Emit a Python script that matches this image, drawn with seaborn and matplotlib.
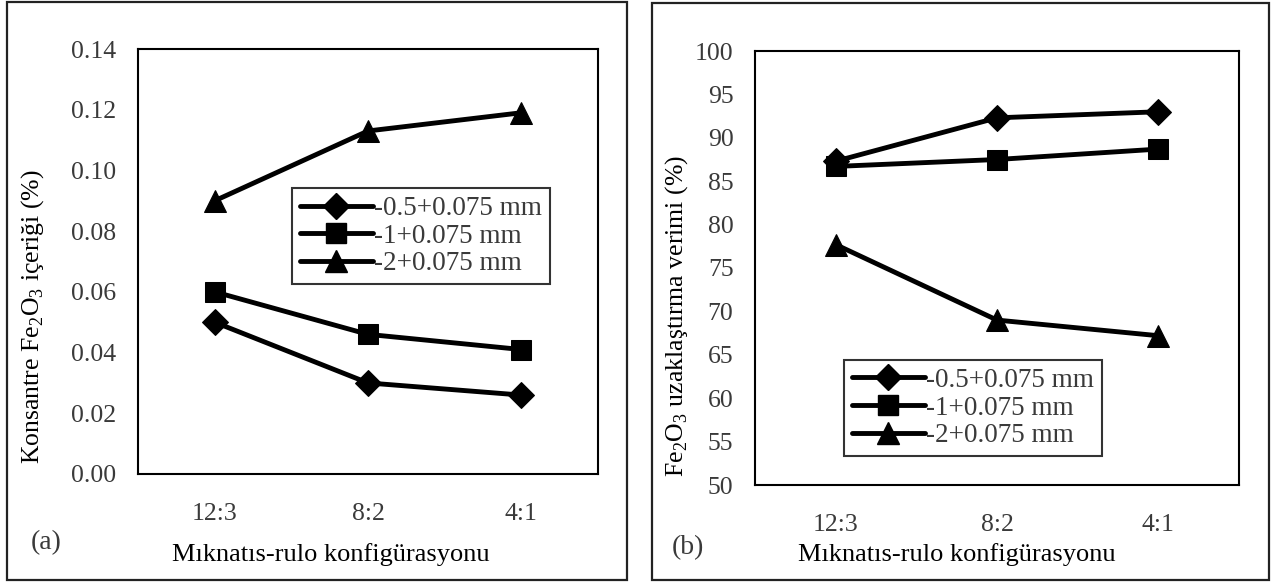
import pandas as pd
import matplotlib
matplotlib.use("Agg")
import matplotlib.pyplot as plt
from matplotlib.patches import Rectangle
from matplotlib.lines import Line2D
import seaborn as sns

# ------ Dados ------ #
configs = ["12:3", "8:2", "4:1"]
series = ["-0.5+0.075 mm", "-1+0.075 mm", "-2+0.075 mm"]

# (a) Konsantre Fe2O3 içeriği (%)
fe_a_05 = [0.050, 0.030, 0.026]
fe_a_1 = [0.060, 0.046, 0.041]
fe_a_2 = [0.090, 0.113, 0.119]

# (b) Fe2O3 uzaklaştırma verimi (%)
ver_b_05 = [87.3, 92.3, 93.0]
ver_b_1 = [86.7, 87.5, 88.7]
ver_b_2 = [77.7, 69.0, 67.2]

yticks_a = [0.00, 0.02, 0.04, 0.06, 0.08, 0.10, 0.12, 0.14]
yticks_b = [50, 55, 60, 65, 70, 75, 80, 85, 90, 95, 100]

markers = {series[0]: "D", series[1]: "s", series[2]: "^"}
msizes = {series[0]: 13, series[1]: 15, series[2]: 16}

W, H = 1279, 585
GRAY = "#3a3a3a"


def long_df(vals):
    rows = []
    for s, v in zip(series, vals):
        for c, y in zip(configs, v):
            rows.append({"konf": c, "deger": y, "seri": s})
    return pd.DataFrame(rows)


def px_box(x0, y0, x1, y1):
    # caixa em pixels (origem no topo) -> fracao da figura
    return [x0 / W, 1 - y1 / H, (x1 - x0) / W, (y1 - y0) / H]


sns.set_style("white")
plt.rcParams["font.family"] = ["Liberation Serif", "DejaVu Serif"]
plt.rcParams["mathtext.fontset"] = "custom"
plt.rcParams["mathtext.rm"] = "Liberation Serif"

fig = plt.figure(figsize=(W / 100, H / 100), dpi=100)

# molduras externas
for x0, y0, x1, y1 in [(7, 2, 627, 580), (652, 3, 1269, 580)]:
    b = px_box(x0, y0, x1, y1)
    fig.patches.append(Rectangle((b[0], b[1]), b[2], b[3], transform=fig.transFigure,
                                 fill=False, edgecolor="#222222", linewidth=1.6))

ax_a = fig.add_axes(px_box(138, 49, 598, 474))
ax_b = fig.add_axes(px_box(755, 51, 1239, 485))


def desenha(ax, df, yticks, ylabel, fmt, leg_pos, ylab_pos, xlab_pos, ypad):
    for s in series:
        d = df[df["seri"] == s]
        sns.lineplot(data=d, x="konf", y="deger", ax=ax, color="black", linewidth=3.5,
                     marker=markers[s], markersize=msizes[s], markeredgecolor="black",
                     legend=False, sort=False)
    ax.set_xlim(-0.5, len(configs) - 0.5)
    ax.set_ylim(yticks[0], yticks[-1])
    ax.set_yticks(yticks)
    ax.set_yticklabels([fmt(t) for t in yticks], fontsize=18.5, color=GRAY)
    ax.set_xticks(range(len(configs)))
    ax.set_xticklabels(configs, fontsize=18.5, color=GRAY)
    ax.set_xticks([i - 0.5 for i in range(len(configs) + 1)], minor=True)
    ax.tick_params(axis="x", which="major", length=0, pad=21)
    ax.tick_params(axis="x", which="minor", length=7, width=1.4, direction="out", color="black")
    ax.tick_params(axis="y", length=7, width=1.4, direction="out", color="black", pad=ypad)
    for sp in ax.spines.values():
        sp.set_color("black")
        sp.set_linewidth(1.5)
    ax.set_xlabel("Mıknatıs-rulo konfigürasyonu", fontsize=19, color="black")
    ax.xaxis.set_label_coords(*xlab_pos)
    ax.xaxis.label.set_va("center")
    ax.set_ylabel(ylabel, fontsize=18.5, color="black")
    ax.yaxis.set_label_coords(*ylab_pos)
    ax.yaxis.label.set_va("center")
    handles = [Line2D([0], [0], color="black", linewidth=3.5, marker=markers[s],
                      markersize=msizes[s], markeredgecolor="black") for s in series]
    leg = ax.legend(handles, series, loc="lower left", bbox_to_anchor=leg_pos, fontsize=19.5,
                    frameon=True, fancybox=False, edgecolor="black", handlelength=2.7,
                    handletextpad=0.05, borderpad=0.28, labelspacing=0.1, borderaxespad=0)
    leg.get_frame().set_linewidth(1.5)
    for t in leg.get_texts():
        t.set_color(GRAY)


desenha(ax_a, long_df([fe_a_05, fe_a_1, fe_a_2]), yticks_a,
        "Konsantre Fe$_\\mathregular{2}$O$_\\mathregular{3}$ içeriği (%)",
        lambda t: f"{t:.2f}", (0.335, 0.447), (-0.230, 0.37), (0.42, -0.19), 9)
desenha(ax_b, long_df([ver_b_05, ver_b_1, ver_b_2]), yticks_b,
        "Fe$_\\mathregular{2}$O$_\\mathregular{3}$ uzaklaştırma verimi (%)",
        lambda t: f"{t:d}", (0.184, 0.067), (-0.163, 0.39), (0.417, -0.161), 8.5)

fig.text(46 / W, 1 - 543 / H, "(a)", fontsize=20, color=GRAY, ha="center", va="center")
fig.text(688 / W, 1 - 548 / H, "(b)", fontsize=20, color=GRAY, ha="center", va="center")

fig.savefig("out.png", dpi=100)
